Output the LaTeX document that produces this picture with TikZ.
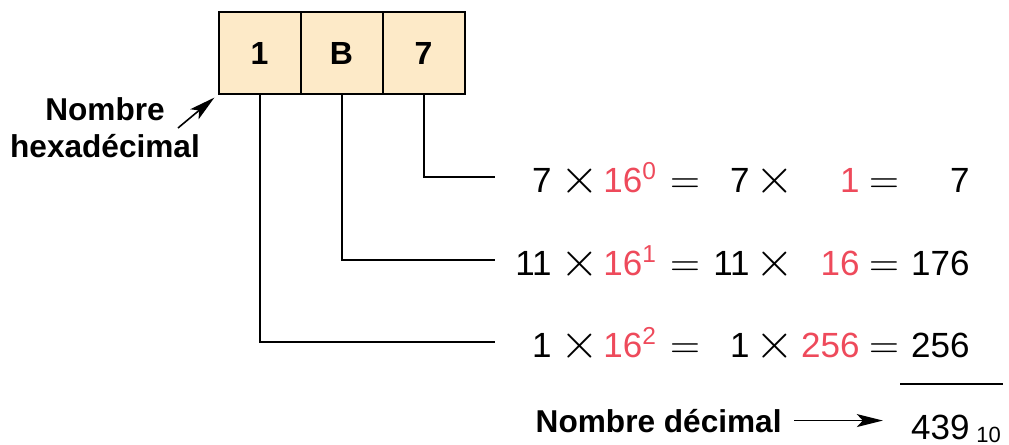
\documentclass[tikz,border=0pt]{standalone}
\usepackage{fontspec}
\setmainfont{Liberation Sans}
\usetikzlibrary{arrows.meta,positioning}

\definecolor{hexred}{HTML}{EE4A5B}
\definecolor{cellfill}{HTML}{FDEAC8}

\tikzset{
  cell/.style={draw, fill=cellfill, line width=1pt, minimum width=41pt,
    minimum height=41pt, inner sep=0pt, font=\fontsize{16}{16}\selectfont\bfseries},
  term/.style={inner sep=0pt, font=\fontsize{17.5}{17.5}\selectfont},
  op/.style={inner sep=0pt, font=\fontsize{21}{21}\selectfont},
  times/.style={inner sep=0pt, font=\fontsize{23}{23}\selectfont},
  lbl/.style={align=center, font=\fontsize{15.8}{18.5}\selectfont\bfseries},
  wire/.style={line width=1pt},
  pointer/.style={line width=0.8pt, -{Stealth[length=13pt,width=6.5pt,inset=3pt]}},
}

\begin{document}
\begin{tikzpicture}[x=0.5pt,y=-0.5pt]

      \useasboundingbox (0,0) rectangle (1009,445);

      % the three hex digits
      \node[cell] (h1) at (259.5,53) {1};
      \node[cell] (hB) at (341.5,53) {B};
      \node[cell] (h7) at (423.5,53) {7};

      \node[lbl] (hexa) at (105,128) {Nombre\\hexadécimal};
      \coordinate (hexatail) at (178,128);
      \draw[pointer, shorten >=2pt] (hexatail) -- (h1.south west);

      % one row per digit: a x 16^n = b x c = d
      \foreach \r/\yy/\a/\n/\b/\c/\d in {0/192/7/0/7/1/7,
                                          1/275/11/1/11/16/176,
                                          2/357/1/2/1/256/256} {
        \node[term, anchor=base east] (fa\r)  at (552,\yy) {\a};
        \node[times, anchor=base]     (xa\r)  at (580,{\yy+1}) {$\times$};
        \node[term, anchor=base west, text=hexred] (pw\r) at (603,\yy) {16\textsuperscript{\n}};
        \node[op, anchor=base]        (eqa\r) at (685,{\yy+1}) {$=$};
        \node[term, anchor=base east] (fb\r)  at (750,\yy) {\b};
        \node[times, anchor=base]     (xb\r)  at (775,{\yy+1}) {$\times$};
        \node[term, anchor=base east, text=hexred] (pv\r) at (860,\yy) {\c};
        \node[op, anchor=base]        (eqb\r) at (884,{\yy+1}) {$=$};
        \node[term, anchor=base east] (res\r) at (970,\yy) {\d};
        \coordinate (r\r) at (495,{\yy-15});
      }

      % wires from the digits to their rows
      \draw[wire] (h7.south) |- (r0);
      \draw[wire] (hB.south) |- (r1);
      \draw[wire] (h1.south) |- (r2);

      % the sum
      \draw[wire] (900,384) -- (1003,384);
      \node[term, anchor=base east] (sum) at (970,439) {439};
      \node[term, anchor=base west, font=\fontsize{11}{11}\selectfont] (base) at (976,442) {10};

      \node[lbl, anchor=base east, inner sep=0pt] (dec) at (782,432) {Nombre décimal};
      \draw[pointer, shorten <=6pt, shorten >=14pt] (dec.east) -- (dec.east -| sum.west);

    \end{tikzpicture}
\end{document}
